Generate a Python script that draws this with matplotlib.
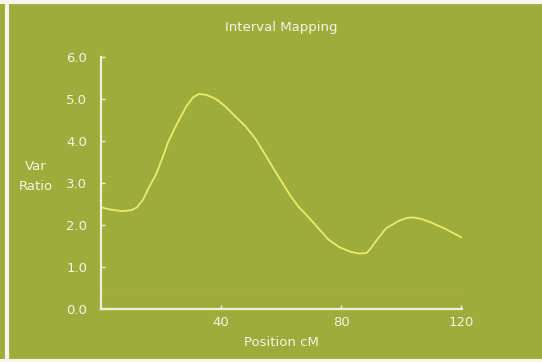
import matplotlib.pyplot as plt
from matplotlib.lines import Line2D

# values
position_cm = [0, 3, 7, 10, 12, 14, 16, 18.3, 20.5, 22.3, 24.2, 26, 28.5, 30.7, 32.7,
               35, 38.3, 41.5, 45, 48.3, 51.7, 54.7, 57.7, 60.5, 63.3, 66, 69, 72.5,
               75.7, 79.5, 83.3, 86, 88.5, 90, 92, 95, 99, 102, 104, 107, 110, 115, 120]
var_ratio = [2.42, 2.37, 2.33, 2.35, 2.42, 2.6, 2.9, 3.2, 3.6, 3.96, 4.25, 4.5, 4.83,
             5.04, 5.12, 5.1, 5.0, 4.82, 4.57, 4.34, 4.03, 3.68, 3.32, 3.0, 2.68,
             2.42, 2.2, 1.92, 1.66, 1.47, 1.36, 1.32, 1.33, 1.45, 1.65, 1.92, 2.09,
             2.17, 2.18, 2.14, 2.06, 1.9, 1.71]
threshold = 0.36
y_ticks = [0.0, 1.0, 2.0, 3.0, 4.0, 5.0, 6.0]
x_ticks = [40, 80, 120]

bg = '#9eac3b'
txt = '#f4f4e4'
curve = '#e6ee6c'

fig = plt.figure(figsize=(5.42, 3.62), dpi=100, facecolor=bg)
ax = fig.add_axes([101 / 542, 53 / 362, 361 / 542, 252 / 362])
ax.set_facecolor(bg)

ax.plot(position_cm, var_ratio, color=curve, lw=1.3, solid_joinstyle='round')
ax.axhline(threshold, color='#c9a23a', lw=1.0, alpha=0.55)

ax.set_xlim(0, 120.33)
ax.set_ylim(0, 6.0)
ax.set_xticks(x_ticks)
ax.set_yticks(y_ticks)
ax.set_yticklabels(['%.1f' % v for v in y_ticks])

for s in ['top', 'right']:
    ax.spines[s].set_visible(False)
for s in ['left', 'bottom']:
    ax.spines[s].set_color('#eef0d8')
    ax.spines[s].set_linewidth(1.6)

ax.tick_params(axis='x', direction='in', length=3, width=1, color='#eef0d8',
               labelcolor=txt, labelsize=9.5, pad=5)
ax.tick_params(axis='y', direction='in', length=3, width=1, color='#eef0d8',
               labelcolor=txt, labelsize=9.5, pad=10)

fig.text(281 / 542, 1 - 28 / 362, 'Interval Mapping', color=txt, fontsize=9.5,
         ha='center', va='center')
fig.text(281 / 542, 1 - 343 / 362, 'Position cM', color=txt, fontsize=9.5,
         ha='center', va='center')
fig.text(36 / 542, 1 - 166 / 362, "Var", color=txt, fontsize=9.5,
         ha='center', va='center')
fig.text(36 / 542, 1 - 186 / 362, "Ratio", color=txt, fontsize=9.5,
         ha='center', va='center')

# page edges of the scanned figure
fig.add_artist(Line2D([7 / 542, 7 / 542], [0, 1], transform=fig.transFigure,
                      color='#f6f6ec', lw=3))
fig.add_artist(Line2D([0, 1], [1 - 1.5 / 362, 1 - 1.5 / 362], transform=fig.transFigure,
                      color='#f6f6ec', lw=3))
fig.add_artist(Line2D([0, 1], [1.5 / 362, 1.5 / 362], transform=fig.transFigure,
                      color='#f6f6ec', lw=3))

fig.savefig('out.png', dpi=100, facecolor=bg)
